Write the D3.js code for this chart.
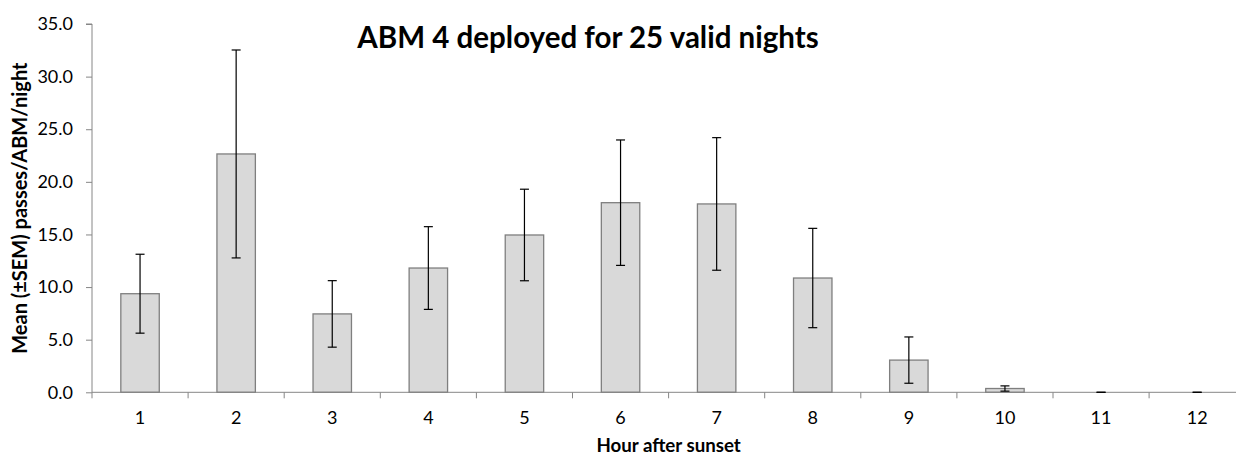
<!DOCTYPE html>
<html><head><meta charset="utf-8">
<script src="https://cdn.jsdelivr.net/npm/d3@7"></script>
<style>body{margin:0;background:#fff}svg{display:block}</style>
</head><body><svg id="c" width="1236" height="455"></svg>
<script>
const categories = ["1","2","3","4","5","6","7","8","9","10","11","12"];
const means = [9.37, 22.65, 7.45, 11.81, 14.95, 18.02, 17.9, 10.86, 3.06, 0.36, 0, 0];
const sems  = [3.75, 9.88, 3.16, 3.93, 4.35, 5.96, 6.3, 4.72, 2.2, 0.25, 0, 0];
const yTicks = [0, 5, 10, 15, 20, 25, 30, 35];
const title = "ABM 4 deployed for 25 valid nights";
const xTitle = "Hour after sunset";
const yTitle = "Mean (\u00B1SEM) passes/ABM/night";

(function(){
const svg = d3.select("#c");
const left = 92, plotTop = 24, bottom = 392.3, step = 96.1;
const x = d3.scaleBand().domain(categories).range([left, left + step*categories.length]).padding(0);
const y = d3.scaleLinear().domain([0, 35]).range([bottom, plotTop]);
const font = "Lato, 'Open Sans', sans-serif";
const axisColor = "#868686";

// bars
const bw = x.bandwidth()*0.4;
svg.append("g").selectAll("rect").data(categories.filter((c,i)=>means[i]>0)).join("rect")
  .attr("x", c => x(c) + x.bandwidth()/2 - bw/2)
  .attr("y", c => y(means[categories.indexOf(c)]))
  .attr("width", bw)
  .attr("height", c => y(0) - y(means[categories.indexOf(c)]))
  .attr("fill", "#d9d9d9").attr("stroke", "#7f7f7f").attr("stroke-width", 1.3);

// y axis
const ya = svg.append("g").attr("transform", `translate(${left},0)`)
  .call(d3.axisLeft(y).tickValues(yTicks).tickFormat(d3.format(".1f")).tickSize(6).tickPadding(13));
ya.select(".domain").attr("stroke", axisColor).attr("d", `M-6,${plotTop}H0V${bottom}`);
ya.selectAll(".tick line").attr("stroke", axisColor);
ya.selectAll(".tick text").attr("font-family", font).attr("font-size", 18).attr("fill", "#000");

// x axis
const xa = svg.append("g").attr("transform", `translate(0,${bottom})`)
  .call(d3.axisBottom(x).tickSize(0).tickPadding(19));
xa.select(".domain").attr("stroke", axisColor).attr("d", `M${left},0H1236`);
xa.selectAll(".tick text").attr("font-family", font).attr("font-size", 18).attr("fill", "#000");
xa.selectAll("line.b").data(categories.map(c => x(c)).concat([x.range()[1]])).join("line")
  .attr("class","b").attr("x1", d=>d).attr("x2", d=>d).attr("y1", 0).attr("y2", 6)
  .attr("stroke", axisColor);

// error bars
const eg = svg.append("g").attr("stroke", "#000").attr("stroke-width", 1.2);
categories.forEach((c,i) => {
  const cx = x(c) + x.bandwidth()/2;
  const hi = y(means[i]+sems[i]), lo = y(Math.max(0, means[i]-sems[i]));
  eg.append("line").attr("x1", cx).attr("x2", cx).attr("y1", hi).attr("y2", lo);
  eg.append("line").attr("x1", cx-4.5).attr("x2", cx+4.5).attr("y1", hi).attr("y2", hi);
  eg.append("line").attr("x1", cx-4.5).attr("x2", cx+4.5).attr("y1", lo).attr("y2", lo);
});

// titles
svg.append("text").attr("x", 588).attr("y", 48).attr("text-anchor", "middle")
  .attr("font-family", font).attr("font-weight", "bold").attr("font-size", 29.5).text(title);
svg.append("text").attr("x", (x.range()[0]+x.range()[1])/2).attr("y", 452).attr("text-anchor", "middle")
  .attr("font-family", font).attr("font-weight", "bold").attr("font-size", 18.7).text(xTitle);
svg.append("text").attr("transform", `translate(27,${(plotTop+bottom)/2}) rotate(-90)`).attr("text-anchor", "middle")
  .attr("font-family", font).attr("font-weight", "bold").attr("font-size", 20).text(yTitle);
})();
</script></body></html>
